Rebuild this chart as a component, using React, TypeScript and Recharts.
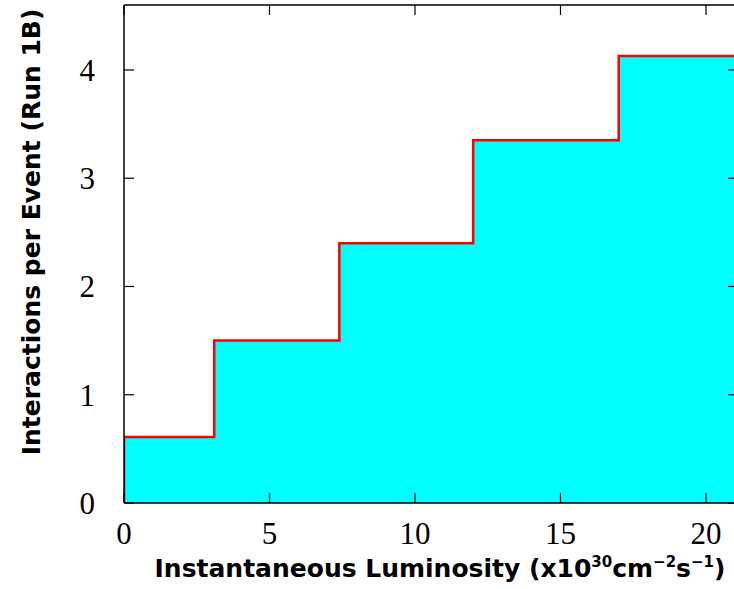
import React from "react";
import { ComposedChart, Area, XAxis, YAxis, Customized } from "recharts";

// bin edges (luminosity, x10^30) and interactions per event in each bin
const binEdges = [0, 0, 3.1, 7.4, 12.0, 17.0, 21.1];
const interactions = [0, 0.61, 1.5, 2.4, 3.35, 4.13, 4.13];
const xTicks = [0, 5, 10, 15, 20];
const yTicks = [0, 1, 2, 3, 4];

const data = binEdges.map((x, i) => ({ lum: x, n: interactions[i] }));

const SERIF = "'Liberation Serif', 'Times New Roman', serif";
const SANS = "'DejaVu Sans', sans-serif";
const TICK_LEN = 10;

function BottomTick(props: any) {
  const { x, y, payload } = props;
  return (
    <g>
      <line x1={x} y1={y} x2={x} y2={y - TICK_LEN} stroke="#000" strokeWidth={1.2} />
      <text x={x} y={y + 41} textAnchor="middle" fontFamily={SERIF} fontSize={31} fill="#000">
        {payload.value}
      </text>
    </g>
  );
}

function TopTick(props: any) {
  const { x, y } = props;
  return <line x1={x} y1={y} x2={x} y2={y + TICK_LEN} stroke="#000" strokeWidth={1.2} />;
}

function LeftTick(props: any) {
  const { x, y, payload } = props;
  return (
    <g>
      <line x1={x} y1={y} x2={x + TICK_LEN} y2={y} stroke="#000" strokeWidth={1.2} />
      <text x={x - 29} y={y + 11} textAnchor="end" fontFamily={SERIF} fontSize={31} fill="#000">
        {payload.value}
      </text>
    </g>
  );
}

function RightTick(props: any) {
  const { x, y } = props;
  return <line x1={x} y1={y} x2={x - TICK_LEN} y2={y} stroke="#000" strokeWidth={1.2} />;
}

function Titles() {
  return (
    <g fontFamily={SANS} fill="#000" fontWeight="bold">
      <text x={440} y={577} textAnchor="middle" fontSize={25}>
        Instantaneous Luminosity (x10
        <tspan fontSize={15} dy={-10}>30</tspan>
        <tspan dy={10}>cm</tspan>
        <tspan fontSize={15} dy={-10}>−2</tspan>
        <tspan dy={10}>s</tspan>
        <tspan fontSize={15} dy={-10}>−1</tspan>
        <tspan dy={10}>)</tspan>
      </text>
      <text
        x={0}
        y={0}
        transform="translate(40 232) rotate(-90)"
        textAnchor="middle"
        fontSize={25}
      >
        Interactions per Event (Run 1B)
      </text>
    </g>
  );
}

export default function App() {
  return (
    <div
      style={{
        position: "fixed",
        left: 0,
        top: 0,
        width: 734,
        height: 589,
        overflow: "hidden",
        background: "#fff",
      }}
    >
      <ComposedChart
        width={760}
        height={589}
        data={data}
        margin={{ top: 0, right: 0, bottom: 0, left: 0 }}
      >
        <XAxis
          dataKey="lum"
          type="number"
          domain={[0, 21.1]}
          ticks={xTicks}
          allowDataOverflow
          height={86}
          tickSize={0}
          tickMargin={0}
          tickLine={false}
          axisLine={{ stroke: "#000", strokeWidth: 1.5 }}
          tick={<BottomTick />}
          interval={0}
        />
        <XAxis
          xAxisId="top"
          orientation="top"
          dataKey="lum"
          type="number"
          domain={[0, 21.1]}
          ticks={xTicks}
          allowDataOverflow
          height={5}
          tickSize={0}
          tickMargin={0}
          tickLine={false}
          axisLine={{ stroke: "#000", strokeWidth: 1.5 }}
          tick={<TopTick />}
          interval={0}
        />
        <YAxis
          type="number"
          domain={[0, 4.6]}
          ticks={yTicks}
          allowDataOverflow
          width={124}
          tickSize={0}
          tickMargin={0}
          tickLine={false}
          axisLine={{ stroke: "#000", strokeWidth: 1.5 }}
          tick={<LeftTick />}
          interval={0}
        />
        <YAxis
          yAxisId="right"
          orientation="right"
          type="number"
          domain={[0, 4.6]}
          ticks={yTicks}
          allowDataOverflow
          width={22}
          tickSize={0}
          tickMargin={0}
          tickLine={false}
          axisLine={{ stroke: "#000", strokeWidth: 1.5 }}
          tick={<RightTick />}
          interval={0}
        />
        <Area
          type="stepAfter"
          dataKey="n"
          stroke="#ff0000"
          strokeWidth={2.5}
          fill="#00ffff"
          fillOpacity={1}
          isAnimationActive={false}
          dot={false}
          activeDot={false}
        />
        <Customized component={Titles} />
      </ComposedChart>
    </div>
  );
}
